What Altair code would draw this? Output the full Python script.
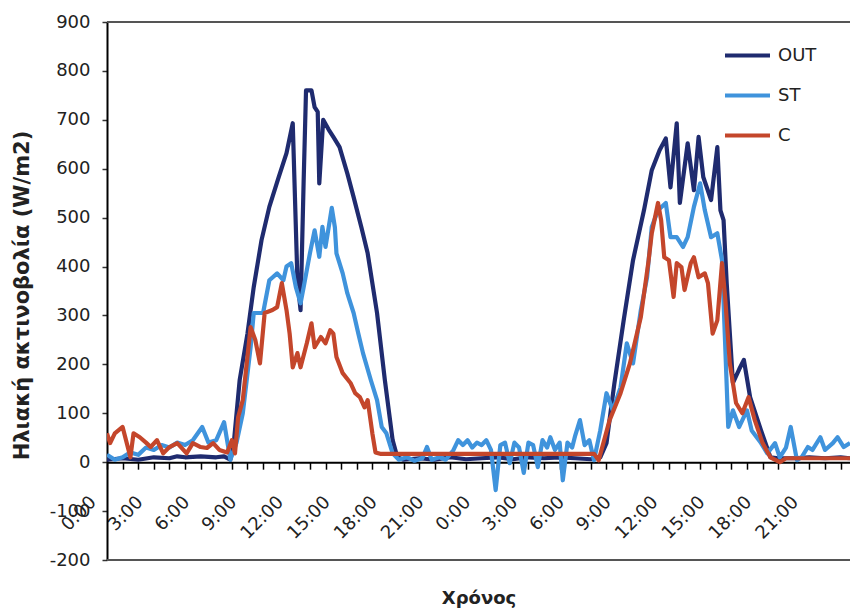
import altair as alt
import pandas as pd

# ---- data (hours from first midnight, W/m2) ----
out_h = [0, 1, 2, 3, 4, 4.5, 5, 6, 7, 7.5, 7.9, 8.1, 8.5, 9.0, 9.4, 9.9, 10.4, 11.0, 11.5, 11.9,
         12.2, 12.4, 12.6, 12.75, 13.1, 13.3, 13.5, 13.6, 13.85, 14.2, 14.5, 14.9, 15.4, 15.8, 16.3,
         16.7, 17.3, 17.8, 18.3, 18.6, 19, 20, 21, 22, 23, 24, 25, 26, 27, 28, 29, 30, 31, 31.6,
         32.0, 32.5, 33.1, 33.7, 34.4, 34.9, 35.4, 35.8, 36.1, 36.5, 36.7, 37.2, 37.6, 37.9, 38.2,
         38.7, 39.1, 39.3, 39.5, 39.7, 40.1, 40.5, 40.8, 41.2, 41.9, 42.5, 43, 44, 45, 46, 47, 47.6]
out_v = [5, 8, 5, 10, 8, 12, 10, 12, 10, 12, 5, 31, 168, 263, 358, 454, 522, 583, 632, 693,
         372, 311, 577, 760, 760, 726, 716, 570, 700, 680, 665, 644, 590, 542, 480,
         427, 305, 168, 45, 10, 5, 8, 5, 10, 6, 8, 10, 6, 10, 8, 10, 8, 6, 10,
         39, 160, 290, 413, 515, 597, 638, 662, 562, 693, 530, 652, 556, 665, 583,
         536, 644, 515, 495, 366, 162, 190, 209, 133, 65, 10, 8, 8, 10, 8, 10, 8]

st_h = [0, 0.5, 1, 1.5, 2, 2.5, 3, 3.5, 4, 4.5, 5, 5.5, 6.1, 6.5, 7, 7.5, 7.9, 8.3, 8.7, 9.2,
        9.4, 10, 10.4, 10.9, 11.3, 11.5, 11.8, 12.1, 12.4, 12.6, 13, 13.3, 13.6, 13.8, 14.0, 14.4,
        14.6, 14.7, 15.1, 15.4, 15.8, 16.1, 16.4, 16.9, 17.3, 17.6, 17.9, 18.3, 18.7, 19.2, 19.7,
        20.2, 20.5, 20.8, 21.3, 21.7, 22.2, 22.5, 22.8, 23.1, 23.4, 23.7, 24.0, 24.3, 24.6, 24.9,
        25.2, 25.5, 25.8, 26.1, 26.4, 26.7, 27.0, 27.3, 27.6, 27.9, 28.2, 28.4, 28.7, 29.0, 29.2,
        29.5, 29.8, 30.0, 30.3, 30.6, 30.9, 31.2, 31.6, 32.0, 32.4, 32.9, 33.3, 33.7, 34.2, 34.6,
        34.9, 35.3, 35.8, 36.1, 36.5, 36.9, 37.2, 37.6, 38.0, 38.3, 38.7, 39.1, 39.4, 39.6, 39.8,
        40.1, 40.5, 41.0, 41.3, 41.9, 42.3, 42.8, 43.1, 43.5, 43.8, 44.2, 44.5, 44.9, 45.2, 45.7,
        46.0, 46.5, 46.8, 47.2, 47.6]
st_v = [15, 5, 10, 20, 15, 30, 25, 35, 30, 40, 35, 45, 72, 40, 45, 82, 5, 40, 100, 235,
        305, 305, 372, 386, 372, 400, 407, 358, 325, 358, 427, 474, 420, 481, 440, 520,
        480, 427, 386, 345, 305, 263, 223, 168, 127, 72, 59, 18, 5, 10, 3,
        8, 31, 5, 10, 5, 25, 45, 35, 45, 30, 40, 35, 45, 25, -57,
        35, 40, -2, 40, 30, -22, 40, 35, -10, 45, 30, 51, 25, 40, -37,
        40, 30, 55, 86, 35, 45, 4, 65, 141, 106, 153, 243, 202, 311, 378,
        481, 515, 530, 460, 460, 440, 460, 522, 570, 515, 460, 468, 413, 243, 72,
        106, 72, 106, 65, 39, 18, 39, 10, 30, 72, 4, 10, 31, 25, 51,
        25, 39, 51, 31, 39]

c_h = [0, 0.2, 0.5, 1.0, 1.5, 1.7, 2.1, 2.5, 2.8, 3.2, 3.6, 4.0, 4.5, 5.1, 5.5, 6.0, 6.4, 6.8,
       7.2, 7.7, 8.0, 8.2, 8.4, 8.7, 9.2, 9.5, 9.8, 10.1, 10.6, 10.9, 11.2, 11.5, 11.7, 11.9, 12.2,
       12.4, 12.8, 13.1, 13.3, 13.7, 14.0, 14.3, 14.5, 14.7, 15.1, 15.6, 15.9, 16.2, 16.5, 16.7,
       17.0, 17.2, 17.5, 31.2, 31.5, 32.2, 32.9, 33.5, 34.2, 34.7, 34.9, 35.3, 35.5, 35.7, 36.0,
       36.3, 36.5, 36.8, 37.0, 37.4, 37.6, 37.9, 38.3, 38.5, 38.8, 39.1, 39.4, 39.6, 39.9, 40.3,
       40.7, 41.1, 41.5, 42.0, 42.5, 43.1, 43.5, 47.6]
c_v = [59, 39, 59, 72, 10, 59, 51, 40, 31, 45, 18, 31, 39, 18, 39, 31, 29, 39,
       25, 20, 45, 18, 92, 127, 276, 250, 202, 305, 311, 317, 366, 311, 263, 194, 223,
       194, 243, 284, 235, 256, 243, 270, 263, 215, 182, 162, 141, 133, 112, 127,
       59, 20, 17, 17, 4, 86, 141, 202, 297, 413, 468, 530, 495, 419, 413,
       338, 407, 399, 352, 407, 419, 378, 386, 366, 263, 290, 407, 338, 202, 121,
       100, 133, 86, 39, 10, 0, 8, 8]

frame_values = [900, -200]
series_names = ["OUT", "ST", "C"]
series_colors = ["#1f2b6f", "#3f93dc", "#c4462b"]

rows = []
for name, hs, vs in [("OUT", out_h, out_v), ("ST", st_h, st_v), ("C", c_h, c_v)]:
    for h, v in zip(hs, vs):
        rows.append({"h": h, "v": v, "s": name})
df = pd.DataFrame(rows)

W = 743
H = 538
FONT = "DejaVu Sans"

x_scale = alt.Scale(domain=[0, 47.6], nice=False, zero=False)
y_scale = alt.Scale(domain=[-200, 900], nice=False, zero=False)

x_axis = alt.Axis(
    values=list(range(0, 48)),
    labelExpr="datum.value % 3 == 0 ? (datum.value % 24) + ':00' : ''",
    labelAngle=-45, labelAlign="right", labelBaseline="middle",
    labelFlush=False, labelOverlap=False, labelOffset=-14, labelPadding=30,
    labelFont=FONT, labelFontSize=18, labelColor="#222222",
    offset=-H * 200 / 1100,
    grid=False, domainColor="#000000", domainWidth=2,
    tickColor="#000000", tickSize=7, tickWidth=1.5,
    title="Χρόνος", titleFont=FONT, titleFontSize=18, titleFontWeight="bold",
    titleColor="#222222", titleY=136, titleBaseline="middle",
)
y_axis = alt.Axis(
    values=list(range(-200, 901, 100)),
    labelExpr="'' + datum.value",
    grid=False, domainColor="#000000", domainWidth=2,
    tickColor="#333333", tickSize=5, tickWidth=1.5,
    labelFont=FONT, labelFontSize=18, labelColor="#222222", labelPadding=12,
    title="Ηλιακή ακτινοβολία (W/m2)", titleFont=FONT, titleFontSize=21,
    titleFontWeight="bold", titleColor="#222222",
    titleX=-85, titleY=273, titleAngle=270, titleAlign="center", titleBaseline="middle",
)

lines = alt.Chart(df).mark_line(strokeWidth=4.2, clip=True, strokeJoin="round").encode(
    x=alt.X("h:Q", scale=x_scale, axis=x_axis),
    y=alt.Y("v:Q", scale=y_scale, axis=y_axis),
    color=alt.Color(
        "s:N",
        scale=alt.Scale(domain=series_names, range=series_colors),
        sort=series_names,
        legend=alt.Legend(
            orient="none", legendX=616, legendY=9, title=None,
            symbolType="stroke", symbolStrokeWidth=4, symbolSize=2025,
            labelFont=FONT, labelFontSize=18, labelColor="#222222", labelOffset=6,
            rowPadding=6, padding=0,
        ),
    ),
)

frame = alt.Chart(pd.DataFrame({"y": frame_values})).mark_rule(
    color="#555555", strokeWidth=2
).encode(y=alt.Y("y:Q", scale=y_scale, axis=y_axis))

chart = alt.layer(lines, frame).properties(
    width=W, height=H,
    autosize=alt.AutoSizeParams(type="none"),
    padding={"left": 107, "top": 22, "right": 0, "bottom": 53},
    background="white",
).configure_view(stroke=None)

chart.save("out.html", embed_options={"renderer": "svg", "actions": False})
